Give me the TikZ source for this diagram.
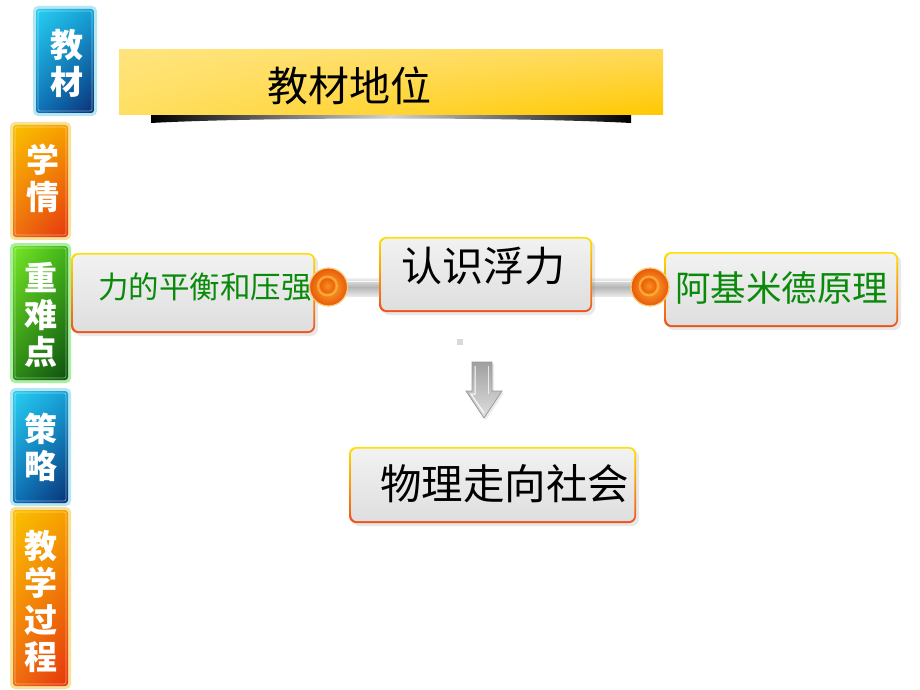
\documentclass[tikz,border=0pt]{standalone}
\usepackage{fontspec}
\newfontfamily\cjk{Noto Sans CJK SC}
\usetikzlibrary{shadows,calc,backgrounds,shadings}
\definecolor{tbB}{HTML}{B5E6F2}
\definecolor{tbUL}{HTML}{2AD4F4}
\definecolor{tbUR}{HTML}{14A0D8}
\definecolor{tbLL}{HTML}{0C74BA}
\definecolor{tbLR}{HTML}{0A2A70}
\definecolor{toB}{HTML}{F6E09A}
\definecolor{toUL}{HTML}{FAC400}
\definecolor{toUR}{HTML}{F6A000}
\definecolor{toLL}{HTML}{F07010}
\definecolor{toLR}{HTML}{E4300E}
\definecolor{tgB}{HTML}{A8F0A0}
\definecolor{tgUL}{HTML}{7CEB28}
\definecolor{tgUR}{HTML}{3FB418}
\definecolor{tgLL}{HTML}{2A8A14}
\definecolor{tgLR}{HTML}{0B4A12}
\definecolor{bxTop}{HTML}{FFE000}
\definecolor{bxBot}{HTML}{F0501E}
\definecolor{inTop}{HTML}{F2F2F2}
\definecolor{inBot}{HTML}{DEDEDE}
\definecolor{txtgreen}{HTML}{0A8A0A}
\definecolor{ballIn}{HTML}{FFB030}
\definecolor{ballOut}{HTML}{E8580A}
\definecolor{ballRim}{HTML}{F6CE78}
\definecolor{ballCore}{HTML}{F8901C}
\definecolor{ballCoreOut}{HTML}{E8620C}
\definecolor{ballRing}{HTML}{FFA838}
\definecolor{ttUL}{HTML}{FFE47E}
\definecolor{ttUR}{HTML}{FFDA5A}
\definecolor{ttLL}{HTML}{FFDF62}
\definecolor{ttLR}{HTML}{FFC800}
\tikzset{
  tabbase/.style={rounded corners=5pt, inner sep=0pt, text=white, align=center,
    font=\cjk\bfseries\fontsize{33}{37}\selectfont},
  tabshade/.style n args={5}{tabbase, fill=#1,
    path picture={
      \shade[rounded corners=3pt, upper left=#2, upper right=#3, lower left=#4, lower right=#5]
        ([shift={(3pt,-3pt)}]path picture bounding box.north west) rectangle
        ([shift={(-3pt,3pt)}]path picture bounding box.south east);
      \draw[white, opacity=0.45, line width=0.8pt, rounded corners=2pt]
        ([shift={(5pt,-5pt)}]path picture bounding box.north west) rectangle
        ([shift={(-5pt,5pt)}]path picture bounding box.south east);
    }},
  tabblue/.style={tabshade={tbB}{tbUL}{tbUR}{tbLL}{tbLR}},
  taborange/.style={tabshade={toB}{toUL}{toUR}{toLL}{toLR}},
  tabgreen/.style={tabshade={tgB}{tgUL}{tgUR}{tgLL}{tgLR}},
  box/.style={rounded corners=7pt, inner sep=0pt, top color=bxTop, bottom color=bxBot,
    drop shadow={opacity=0.18, shadow xshift=3pt, shadow yshift=-3pt},
    path picture={
      \shade[rounded corners=6pt, top color=inTop, bottom color=inBot]
        ([shift={(2.2pt,-1.6pt)}]path picture bounding box.north west) rectangle
        ([shift={(-1.6pt,1.8pt)}]path picture bounding box.south east);
    }},
  lbl/.style={inner sep=0pt, anchor=center},
  ball/.style={circle, minimum size=38pt, inner sep=0pt, draw=ballRim, line width=1.2pt,
    inner color=ballIn, outer color=ballOut,
    path picture={
      \draw[ballRing, line width=1.8pt] ([shift={(-1pt,1pt)}]path picture bounding box.center) circle (9.5pt);
      \shade[inner color=ballCore, outer color=ballCoreOut] ([shift={(-1pt,1pt)}]path picture bounding box.center) circle (7.5pt);
    }},
  bar/.style={top color=gray!12, bottom color=gray!18, middle color=gray!58}
}
\begin{document}
\begin{tikzpicture}[x=1pt,y=-1pt]
\useasboundingbox (0,0) rectangle (920,690);
\begin{pgfonlayer}{background}
\fill[white] (0,0) rectangle (920,690);
\end{pgfonlayer}

% title
\shade[left color=black, right color=black, middle color=gray!35]
  (151,115) -- (631,115) -- (631,123) .. controls (520,117) and (260,117) .. (151,123) -- cycle;
\node[inner sep=0pt, minimum width=544pt, minimum height=65pt,
  upper left=ttUL, upper right=ttUR, lower left=ttLL, lower right=ttLR] (titlebar) at (391,82.5) {};
\node[lbl, font=\cjk\fontsize{41}{41}\selectfont] (titletext) at (349,86) {教材地位};

% side tabs
\node[tabblue, minimum width=64pt, minimum height=110pt] (tab1) at (65,61) {};
\node[tabbase] (tab1t) at (67,63) {教\\材};
\node[taborange, minimum width=61pt, minimum height=118pt] (tab2) at (40.5,181) {};
\node[tabbase] (tab2t) at (43,178) {学\\情};
\node[tabgreen, minimum width=61pt, minimum height=140pt] (tab3) at (40.5,313) {};
\node[tabbase] (tab3t) at (40.5,315) {重\\难\\点};
\node[tabblue, minimum width=61pt, minimum height=118pt] (tab4) at (40.5,447) {};
\node[tabbase] (tab4t) at (41,447) {策\\略};
\node[taborange, minimum width=61pt, minimum height=182pt] (tab5) at (40.5,598) {};
\node[tabbase] (tab5t) at (41,601) {教\\学\\过\\程};

% boxes
\node[box, minimum width=244pt, minimum height=80pt] (bx1) at (193,293) {};
\node[box, minimum width=213pt, minimum height=75pt] (bx2) at (485.5,274.5) {};
\node[box, minimum width=234pt, minimum height=75pt] (bx3) at (781,289.5) {};
\node[box, minimum width=287pt, minimum height=76pt] (bx4) at (492.5,485) {};

\node[lbl, text=txtgreen, font=\cjk\fontsize{30.5}{30.5}\selectfont] (t1) at (205,287) {力的平衡和压强};
\node[lbl, font=\cjk\fontsize{41}{41}\selectfont] (t2) at (483,266) {认识浮力};
\node[lbl, text=txtgreen, font=\cjk\fontsize{35.5}{35.5}\selectfont] (t3) at (781.5,288) {阿基米德原理};
\node[lbl, font=\cjk\fontsize{41.5}{41.5}\selectfont] (t4) at (504.5,484) {物理走向社会};

% balls
\node[ball] (ball1) at (328.5,287) {};
\node[ball] (ball2) at (650,287) {};

% connector bars (behind balls and boxes)
\begin{pgfonlayer}{background}
\shade[bar] ($(ball1.center)+(0,-9)$) rectangle ($(ball1.center -| bx2.west)+(0,9)$);
\shade[bar] ($(bx2.east |- ball2.center)+(0,-9)$) rectangle ($(ball2.center)+(0,9)$);
\draw[white, opacity=0.8, line width=0.8pt] ($(ball1.center)+(0,-6)$) -- ($(ball1.center -| bx2.west)+(0,-6)$);
\draw[white, opacity=0.8, line width=0.8pt] ($(bx2.east |- ball2.center)+(0,-6)$) -- ($(ball2.center)+(0,-6)$);
\end{pgfonlayer}

% small square
\fill[gray!30] (457,339) rectangle (463,345);

% down arrow
\shade[top color=gray!75, bottom color=gray!25, draw=gray!80, line width=0.8pt,
  drop shadow={opacity=0.15, shadow xshift=2pt, shadow yshift=-2pt}]
  (472,362) -- (492,362) -- (492,391) -- (502,391) -- (484,418) -- (466,391) -- (472,391) -- cycle;
\draw[white, line width=1pt] (475,366) -- (475,394) -- (471,394) -- (484,413);
\draw[white, opacity=0.7, line width=1pt] (488,366) -- (488,394);
\end{tikzpicture}
\end{document}
